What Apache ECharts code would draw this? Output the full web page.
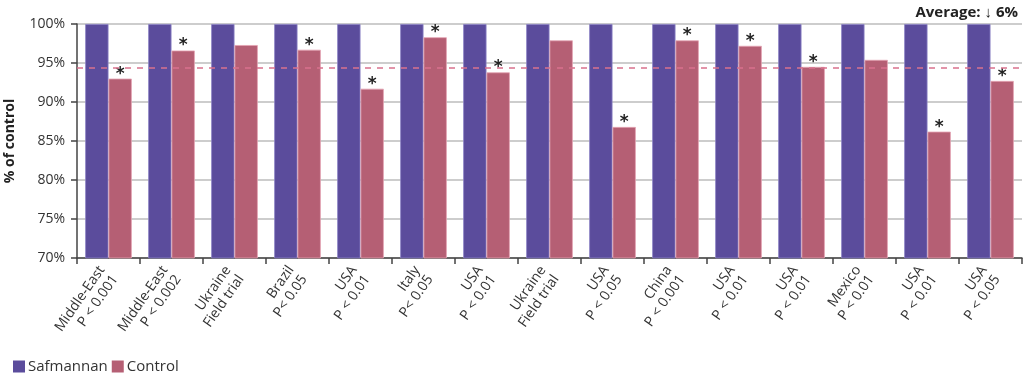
<!DOCTYPE html>
<html>
<head>
<meta charset="utf-8">
<script src="https://cdn.jsdelivr.net/npm/echarts@6/dist/echarts.min.js"></script>
<style>
html,body{margin:0;padding:0;background:#fff;}
#chart{width:1024px;height:375px;}
</style>
</head>
<body>
<div id="chart"></div>
<script>
const categories = [
  "Middle-East\nP < 0.001", "Middle-East\nP < 0.002", "Ukraine\nField trial", "Brazil\nP< 0.05",
  "USA\nP < 0.01", "Italy\nP< 0.05", "USA\nP < 0.01", "Ukraine\nField trial",
  "USA\nP < 0.05", "China\nP < 0.001", "USA\nP < 0.01", "USA\nP < 0.01",
  "Mexico\nP < 0.01", "USA\nP < 0.01", "USA\nP < 0.05"
];
const safmannan = [100,100,100,100,100,100,100,100,100,100,100,100,100,100,100];
const control = [93.0,96.6,97.3,96.7,91.7,98.3,93.8,97.9,86.8,97.9,97.2,94.5,95.4,86.2,92.7];
const significant = [1,1,0,1,1,1,1,0,1,1,1,1,0,1,1];
const averageLine = 94.4;
const yTicks = {min:70, max:100, interval:5};
const titleText = "Average: \u2193 6%";

const FONT = "'Open Sans', sans-serif";
const chart = echarts.init(document.getElementById('chart'), null, {renderer:'canvas'});
chart.setOption({
  animation:false,
  title:{text:titleText, right:1, top:0, textStyle:{fontFamily:FONT, fontWeight:'bold', fontSize:15, color:'#222'}},
  legend:{left:8, top:354, itemWidth:12, itemHeight:12, itemGap:4, icon:'rect',
    itemStyle:{borderWidth:0},
    textStyle:{fontFamily:FONT, fontSize:15, color:'#333', padding:[0,0,0,-2]},
    data:['Safmannan','Control']},
  grid:{left:77, right:2, top:24, bottom:117, containLabel:false, outerBoundsMode:'none'},
  xAxis:{type:'category', data:categories,
    axisLine:{lineStyle:{color:'#444', width:1.5}},
    axisTick:{show:true, length:6, lineStyle:{color:'#444', width:1.5}},
    axisLabel:{rotate:55, interval:0, fontFamily:FONT, fontSize:14, color:'#333', align:'right', margin:14, lineHeight:16}
  },
  yAxis:{type:'value', min:yTicks.min, max:yTicks.max, interval:yTicks.interval,
    name:'% of control', nameLocation:'middle', nameGap:60, nameRotate:90,
    nameTextStyle:{fontFamily:FONT, fontWeight:'bold', fontSize:14, color:'#222'},
    axisLine:{show:true, lineStyle:{color:'#444', width:1.5}},
    axisTick:{show:true, length:6, lineStyle:{color:'#444', width:1.5}},
    axisLabel:{fontFamily:FONT, fontSize:14, color:'#333', margin:12, formatter:'{value}%'},
    splitLine:{lineStyle:{color:'#bdbdbd', width:1.5}}
  },
  series:[
    {name:'Safmannan', type:'bar', data:safmannan, barGap:'0%', barCategoryGap:'26%',
     itemStyle:{color:'#5b4c9c', borderColor:'#8d84c6', borderWidth:0.8}},
    {name:'Control', type:'bar', data:control.map((v,i)=>({value:v,
        label:{show:!!significant[i]}})),
     itemStyle:{color:'#b55f74', borderColor:'#e4a3b3', borderWidth:0.8},
     label:{position:'top', formatter:'*', fontSize:17, fontWeight:'bold', color:'#222', distance:-4, fontFamily:'DejaVu Sans'},
     markLine:{silent:true, symbol:'none', label:{show:false},
       lineStyle:{color:'#d9728d', type:[6,6], width:1.5},
       data:[{yAxis:averageLine}]}
    }
  ]
});
</script>
</body>
</html>
